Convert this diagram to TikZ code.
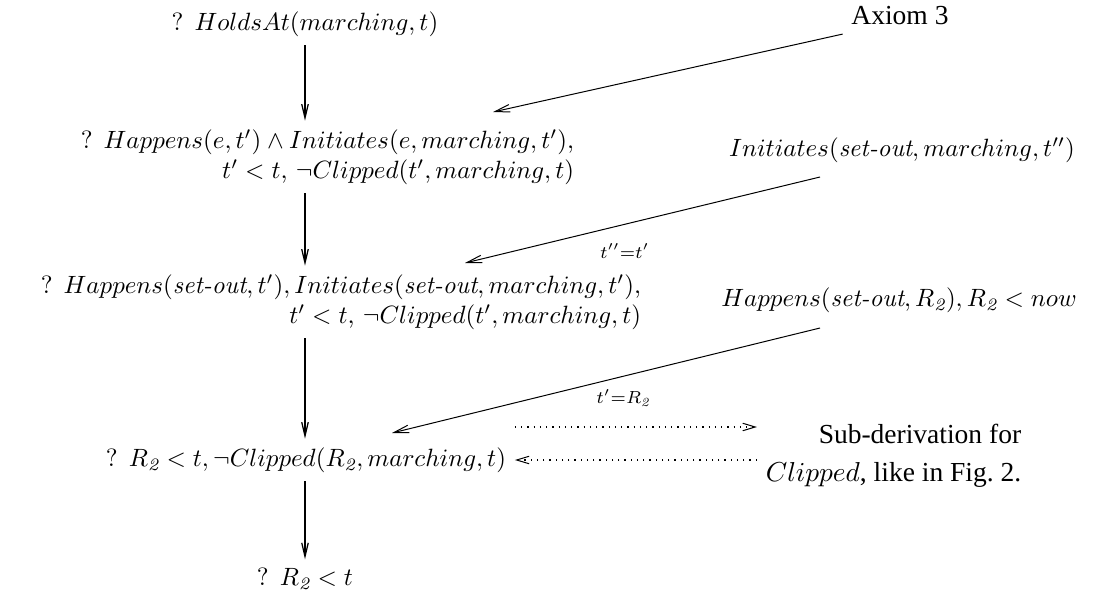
\documentclass[tikz,border=0pt]{standalone}
\usepackage{fontspec}
\usepackage{xcolor}
\usetikzlibrary{arrows.meta, positioning}
\newfontfamily\axiomfont{Liberation Serif}

\begin{document}
\begin{tikzpicture}[
    x=0.4pt, y=-0.4pt,
    goal/.style={align=right},
    note/.style={font=\axiomfont\fontsize{11}{15.2}\selectfont, align=right},
    down/.style={line width=0.8pt, -{Straight Barb[length=5.5pt, width=2.6pt, line width=0.5pt]}},
    rule/.style={line width=0.4pt, -{Straight Barb[length=6pt, width=3pt]}},
    subarrow/.style={dotted, line width=0.5pt, -{Straight Barb[length=5pt, width=3pt, line width=0.4pt, sep=0pt]}},
    eqlabel/.style={font=\scriptsize, inner sep=1pt}
]
    \useasboundingbox (0,0) rectangle (1115,594);

    % derivation chain
    \node[goal] (holds) at (305,24) {? $HoldsAt(marching,t)$};
    \node[goal, anchor=east] (trigger) at (583,157) {? $Happens(e,t') \wedge Initiates(e,marching,t')$,\\ $t'<t$, $\neg Clipped(t',marching,t)$};
    \node[goal, anchor=east] (setout) at (650,302) {? $Happens(\textit{set-out},t'), Initiates(\textit{set-out},marching,t')$,\\ $t'<t$, $\neg Clipped(t',marching,t)$};
    \node[goal] (clipped) at (306,460) {? $R_{\mathit{2}}<t, \neg Clipped(R_{\mathit{2}},marching,t)$};
    \node[goal] (done) at (305,579) {? $R_{\mathit{2}}<t$};

    % rules used
    \node[note] (axiom) at (900,16) {Axiom 3};
    \node (initax) at (902,150) {$Initiates(\textit{set-out},marching,t'')$};
    \node (happax) at (899,300) {$Happens(\textit{set-out},R_{\mathit{2}}), R_{\mathit{2}}<now$};
    \node[note, anchor=east] (subder) at (1030,456) {Sub-derivation for\\$Clipped$, like in Fig.~2.};

    \coordinate (axend) at (493,112);
    \coordinate (inistart) at (820,177);
    \coordinate (iniend) at (465,263);
    \coordinate (hapstart) at (820,328);
    \coordinate (hapend) at (392,433);
    \coordinate (fwd) at ([yshift=13.2pt]clipped.east);

    \draw[down] (holds.south) -- (holds.south |- trigger.north);
    \draw[down] (holds.south |- trigger.south) -- (holds.south |- setout.north);
    \draw[down] (holds.south |- setout.south) -- (holds.south |- clipped.north);
    \draw[down] (holds.south |- clipped.south) -- (holds.south |- done.north);

    \draw[rule] (axiom.south west) -- (axend);
    \draw[rule] (inistart) -- node[eqlabel, below=6.5pt, pos=0.55] {$t''{=}t'$} (iniend);
    \draw[rule] (hapstart) -- node[eqlabel, below=4pt, pos=0.46] {$t'{=}R_{\mathit{2}}$} (hapend);

    \draw[subarrow] (fwd) -- (fwd -| subder.west);
    \draw[subarrow] (subder.west |- clipped.east) -- (clipped.east);
\end{tikzpicture}
\end{document}
